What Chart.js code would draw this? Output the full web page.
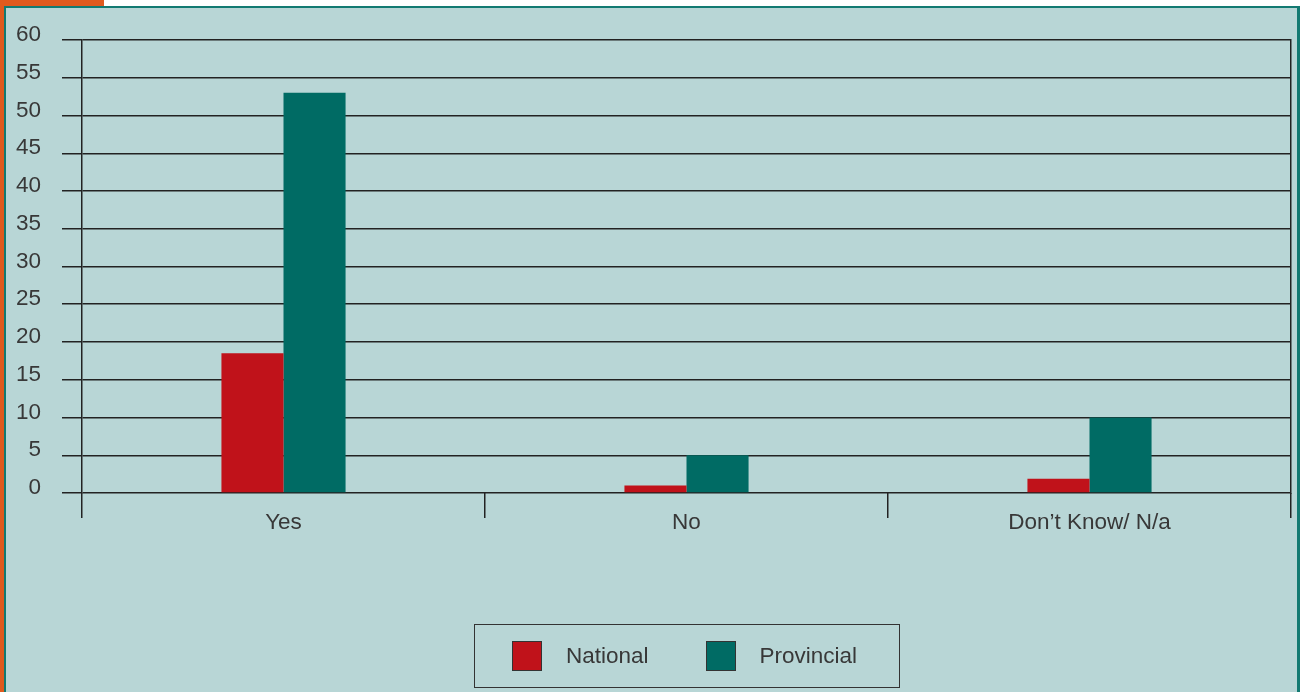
<!DOCTYPE html>
<html>
<head>
<meta charset="utf-8">
<script src="https://cdn.jsdelivr.net/npm/chart.js@4/dist/chart.umd.min.js"></script>
<style>
  html, body { margin: 0; padding: 0; background: #ffffff; width: 1301px; height: 692px; overflow: hidden; }
  #orange { position: absolute; left: 0; top: 0; width: 104px; height: 692px; background: #e05a1e; }
  #panel { position: absolute; left: 4px; top: 6px; width: 1291px; height: 684px; background: #b8d6d6;
           border-left: 2px solid #137a72; border-top: 2px solid #137a72; border-right: 3px solid #137a72; }
  #wrap { position: absolute; left: 0; top: 0; width: 1301px; height: 692px; }
  #legend { position: absolute; left: 474px; top: 624px; width: 426px; height: 64px;
            border: 1.5px solid #333; display: flex; align-items: center; padding-left: 37px; box-sizing: border-box;
            font-family: "Liberation Sans", Arial, sans-serif; font-size: 22.5px; color: #383838; }
  .item { display: flex; align-items: center; margin-right: 57px; }
  .sw { width: 30px; height: 30px; box-sizing: border-box; border: 1px solid #333; margin-right: 24px; }
</style>
</head>
<body>
<div id="orange"></div>
<div id="panel"></div>
<div id="wrap"><canvas id="c" width="1301" height="692"></canvas></div>
<div id="legend"></div>
<script>
const categories = ["Yes", "No", "Don\u2019t Know/ N/a"];
const nationalValues = [18.5, 1, 1.9];
const provincialValues = [53, 5, 10];
const seriesNames = ["National", "Provincial"];
const seriesColors = ["#c0121a", "#006b64"];
const yTicks = [0, 5, 10, 15, 20, 25, 30, 35, 40, 45, 50, 55, 60];

const lineColor = "#222";
const textColor = "#383838";
const font = { family: "'Liberation Sans', Arial, sans-serif", size: 22.5 };

const chart = new Chart(document.getElementById("c"), {
  type: "bar",
  data: {
    labels: categories,
    datasets: [
      { label: seriesNames[0], data: nationalValues, backgroundColor: seriesColors[0], categoryPercentage: 0.308, barPercentage: 1 },
      { label: seriesNames[1], data: provincialValues, backgroundColor: seriesColors[1], categoryPercentage: 0.308, barPercentage: 1 }
    ]
  },
  options: {
    responsive: false,
    animation: false,
    devicePixelRatio: 1,
    layout: { padding: { top: 40, left: 0, right: 10, bottom: 139 } },
    plugins: { legend: { display: false }, tooltip: { enabled: false } },
    scales: {
      x: {
        grid: { drawOnChartArea: false, drawTicks: true, tickLength: 25, color: lineColor, lineWidth: 1.5, offset: true },
        border: { display: false },
        ticks: { font: font, color: textColor, padding: -9, maxRotation: 0 },
        afterFit: (s) => { s.height = 60; }
      },
      y: {
        min: 0, max: 60,
        afterBuildTicks: (s) => { s.ticks = yTicks.map(v => ({ value: v })); },
        grid: { color: lineColor, lineWidth: 1.5, tickLength: 20 },
        border: { color: lineColor, width: 1.5 },
        ticks: { font: font, color: textColor, padding: 21, labelOffset: -5 },
        afterFit: (s) => { s.width = 82; s.paddingTop = 0; s.paddingBottom = 0; }
      },
      y2: {
        position: "right",
        min: 0, max: 60,
        grid: { display: false },
        ticks: { display: false },
        border: { display: true, color: lineColor, width: 1.5 },
        afterFit: (s) => { s.width = 0; s.paddingTop = 0; s.paddingBottom = 0; }
      }
    }
  }
});

// HTML legend built from the datasets
const lg = document.getElementById("legend");
chart.data.datasets.forEach(ds => {
  const it = document.createElement("div");
  it.className = "item";
  const sw = document.createElement("div");
  sw.className = "sw";
  sw.style.background = ds.backgroundColor;
  const tx = document.createElement("span");
  tx.textContent = ds.label;
  it.appendChild(sw); it.appendChild(tx);
  lg.appendChild(it);
});
</script>
</body>
</html>
